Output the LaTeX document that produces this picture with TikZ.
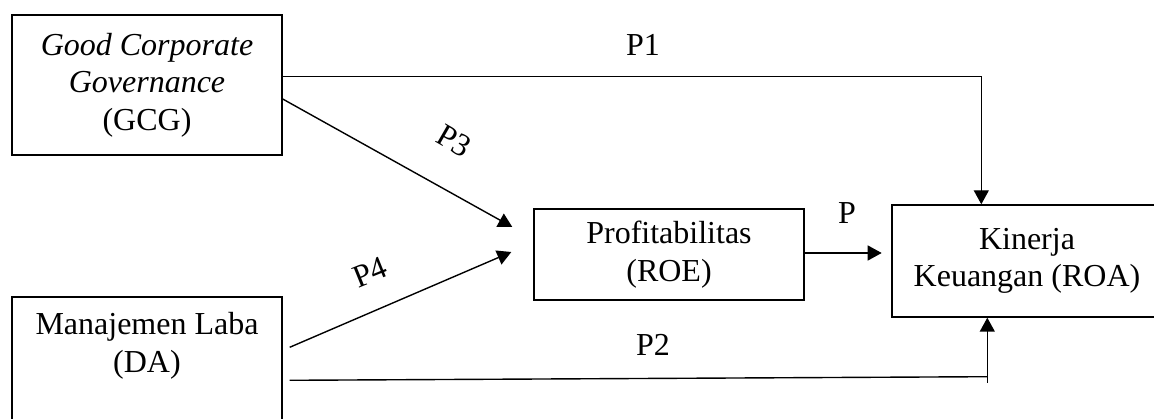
\documentclass[tikz,border=0pt]{standalone}
\usepackage{fontspec}
\setmainfont{Liberation Serif}
\usetikzlibrary{calc,arrows.meta}

\begin{document}
\begin{tikzpicture}[x=1pt,y=-1pt,line width=1.4pt,
  font=\fontsize{32}{37.5}\selectfont,
  box/.style={draw,minimum width=270pt,align=center,inner sep=0pt},
  arr/.style={-{Triangle[length=14pt,width=15pt]}}]
  \useasboundingbox (0,0) rectangle (1154,419);
  \node[box,minimum height=140pt] (gcg) at (147,85)
    {\textit{Good Corporate}\\\textit{Governance}\\(GCG)};
  \node[box,minimum height=160pt] (ml) at (147,377) {};
  \node[align=center] (mltext) at (147,346) {Manajemen Laba\\(DA)};
  \node[box,minimum height=91pt] (prof) at (669,254.5)
    {Profitabilitas\\(ROE)};
  \node[box,minimum height=112pt] (kin) at (1027,261)
    {Kinerja\\Keuangan (ROA)};
  \draw[arr] ($(gcg.north east)+(0,62)$) -| ($(kin.north west)+(90,0)$);
  \draw[arr] ($(gcg.east)+(0,14)$) -- ($(prof.west)+(-21,-27.5)$);
  \draw[arr] ($(ml.north east)+(7,51)$) -- ($(prof.west)+(-22,-2.5)$);
  \draw[arr] ($(prof.east)+(0,-1.5)$) -- ($(prof.east)+(77,-1.5)$);
  \draw ($(ml.north east)+(7,84)$) -- ($(kin.south west)+(96,59)$);
  \draw[arr] ($(kin.south west)+(96,65)$) -- ($(kin.south west)+(96,0)$);
  \node (p1) at (643,45) {P1};
  \node (p2) at (653,345) {P2};
  \node[rotate=-30] (p3) at (454,141) {P3};
  \node[rotate=22] (p4) at (370,272) {P4};
  \node (p) at (847,213) {P};
\end{tikzpicture}
\end{document}
